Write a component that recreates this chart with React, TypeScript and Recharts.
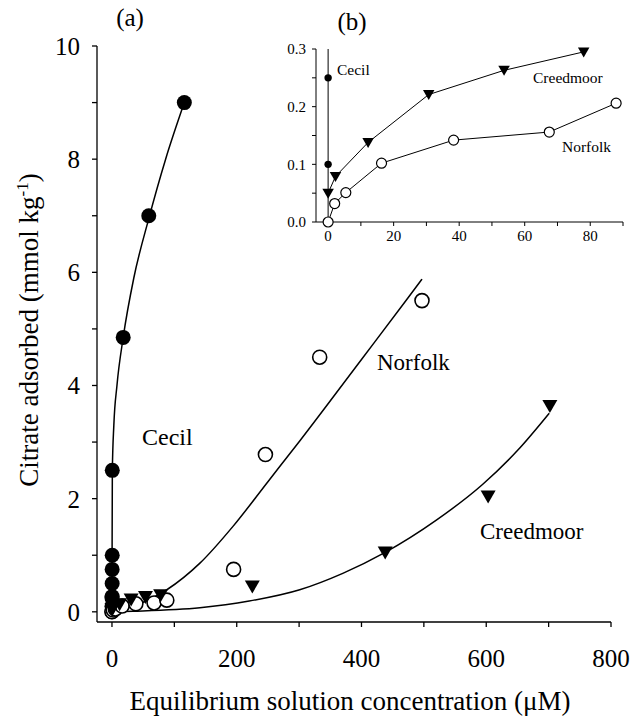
import { ComposedChart, Line, Scatter, XAxis, YAxis } from "recharts";

const SERIF = "'Liberation Serif', 'Times New Roman', serif";

// measured points (µM, mmol/kg)
const cecilX = [0, 0, 0, 0.3, 0.3, 0.3, 0.4, 0.5, 18, 59, 116];
const cecilY = [0, 0.1, 0.25, 0.27, 0.5, 0.75, 1.0, 2.5, 4.85, 7.0, 9.0];
const norfolkX = [0, 2, 5.4, 16.3, 38.3, 67.5, 87.9, 195, 246, 333, 497];
const norfolkY = [0, 0.032, 0.051, 0.102, 0.142, 0.156, 0.206, 0.75, 2.78, 4.5, 5.5];
const creedX = [0, 2.25, 12.2, 30.7, 53.7, 78, 225, 438, 603, 702];
const creedY = [0.05, 0.079, 0.138, 0.221, 0.263, 0.295, 0.45, 1.05, 2.04, 3.64];

// fitted curves
const cecilFitX = [0, 0.2, 0.6, 3, 8, 18, 35, 59, 86, 116];
const cecilFitY = [0, 1.0, 2.5, 3.3, 4.0, 4.85, 5.9, 6.95, 8.0, 9.0];
const norfolkFitX = [0, 34, 88, 141, 194, 250, 301, 400, 472, 497];
const norfolkFitY = [0, 0.1, 0.39, 0.86, 1.51, 2.3, 3.02, 4.46, 5.51, 5.88];
const creedFitX = [0, 34, 141, 220, 301, 370, 438, 520, 594, 650, 701];
const creedFitY = [0, 0.01, 0.07, 0.19, 0.39, 0.68, 1.05, 1.62, 2.25, 2.85, 3.51];

// inset: Cecil rises vertically at ~0 µM
const cecilInsetX = [0, 0];
const cecilInsetY = [0, 0.3];

const mainXTicks = [0, 100, 200, 300, 400, 500, 600, 700, 800];
const mainYTicks = [0, 1, 2, 3, 4, 5, 6, 7, 8, 9, 10];
const insetXTicks = [0, 10, 20, 30, 40, 50, 60, 70, 80, 90];
const insetYTicks = [0, 0.05, 0.1, 0.15, 0.2, 0.25, 0.3];

const zip = (xs: number[], ys: number[]) => xs.map((x, i) => ({ x, y: ys[i] }));
const inInset = (p: { x: number; y: number }) => p.x <= 90 && p.y <= 0.3;

const dot = (r: number) => (p: any) => <circle cx={p.cx} cy={p.cy} r={r} fill="#000" />;
const ring = (r: number, sw: number) => (p: any) => (
  <circle cx={p.cx} cy={p.cy} r={r} fill="#fff" stroke="#000" strokeWidth={sw} />
);
const tri = (w: number) => (p: any) => {
  const h = w * 0.87;
  const pts = `${p.cx - w / 2},${p.cy - h * 0.45} ${p.cx + w / 2},${p.cy - h * 0.45} ${p.cx},${p.cy + h * 0.55}`;
  return <polygon points={pts} fill="#000" />;
};

const axisLine = { stroke: "#000", strokeWidth: 1.3 };
const thin = { stroke: "#000", strokeWidth: 1 };

export default function App() {
  const cecil = zip(cecilX, cecilY);
  const norfolk = zip(norfolkX, norfolkY);
  const creed = zip(creedX, creedY);
  const text = { fontFamily: SERIF, fill: "#000" };

  return (
    <div style={{ position: "absolute", left: 0, top: 0, width: 634, height: 724, background: "#fff", fontFamily: SERIF }}>
      <ComposedChart width={634} height={724} margin={{ top: 46, right: 23, bottom: 62, left: 37 }}>
        <XAxis
          dataKey="x"
          type="number"
          domain={[-24, 800]}
          ticks={mainXTicks}
          tickFormatter={(v) => (v % 200 === 0 ? String(v) : "")}
          height={40}
          tickSize={5}
          tickMargin={22}
          axisLine={axisLine}
          tickLine={axisLine}
          tick={{ ...text, fontSize: 25 }}
        />
        <YAxis
          dataKey="y"
          type="number"
          domain={[-0.18, 10]}
          ticks={mainYTicks}
          tickFormatter={(v) => (v % 2 === 0 ? String(v) : "")}
          width={60}
          tickSize={5}
          tickMargin={12}
          axisLine={axisLine}
          tickLine={axisLine}
          tick={{ ...text, fontSize: 25 }}
        />
        <Line data={zip(cecilFitX, cecilFitY)} dataKey="y" type="monotone" stroke="#000" strokeWidth={1.5} dot={false} isAnimationActive={false} />
        <Line data={zip(norfolkFitX, norfolkFitY)} dataKey="y" type="monotone" stroke="#000" strokeWidth={1.5} dot={false} isAnimationActive={false} />
        <Line data={zip(creedFitX, creedFitY)} dataKey="y" type="monotone" stroke="#000" strokeWidth={1.5} dot={false} isAnimationActive={false} />
        <Scatter data={cecil} shape={dot(7.5)} isAnimationActive={false} />
        <Scatter data={norfolk} shape={ring(7, 1.6)} isAnimationActive={false} />
        <Scatter data={creed} shape={tri(15)} isAnimationActive={false} />
      </ComposedChart>

      <div style={{ position: "absolute", left: 0, top: 0 }}>
        <ComposedChart width={634} height={260} margin={{ top: 49, right: 11, bottom: 13, left: 276 }}>
          <XAxis
            dataKey="x"
            type="number"
            domain={[-3.7, 90]}
            ticks={insetXTicks}
            tickFormatter={(v) => (v % 20 === 0 ? String(v) : "")}
            height={25}
            tickSize={4}
            tickMargin={4}
            axisLine={thin}
            tickLine={thin}
            tick={{ ...text, fontSize: 15 }}
          />
          <YAxis
            dataKey="y"
            type="number"
            domain={[0, 0.3]}
            ticks={insetYTicks}
            tickFormatter={(v) => (Math.round(v * 100) % 10 === 0 ? v.toFixed(1) : "")}
            width={40}
            tickSize={4}
            tickMargin={6}
            axisLine={thin}
            tickLine={thin}
            tick={{ ...text, fontSize: 15 }}
          />
          <Line data={zip(cecilInsetX, cecilInsetY)} dataKey="y" type="linear" stroke="#000" strokeWidth={1} dot={false} isAnimationActive={false} />
          <Line data={creed.filter(inInset)} dataKey="y" type="linear" stroke="#000" strokeWidth={1} dot={false} isAnimationActive={false} />
          <Line data={norfolk.filter(inInset)} dataKey="y" type="linear" stroke="#000" strokeWidth={1} dot={false} isAnimationActive={false} />
          <Scatter data={cecil.filter((p) => p.x === 0 && p.y > 0)} shape={dot(3.7)} isAnimationActive={false} />
          <Scatter data={creed.filter(inInset)} shape={tri(11.5)} isAnimationActive={false} />
          <Scatter data={norfolk.filter(inInset)} shape={ring(5, 1.2)} isAnimationActive={false} />
        </ComposedChart>
      </div>

      <svg width={634} height={724} style={{ position: "absolute", left: 0, top: 0, pointerEvents: "none" }}>
        <g fontFamily={SERIF} fill="#000">
          <text x={130} y={26} fontSize={25} textAnchor="middle">(a)</text>
          <text x={352} y={30} fontSize={25} textAnchor="middle">(b)</text>
          <text x={142} y={445} fontSize={24}>Cecil</text>
          <text x={377} y={370} fontSize={23}>Norfolk</text>
          <text x={480} y={539} fontSize={23}>Creedmoor</text>
          <text x={337} y={75} fontSize={15.5}>Cecil</text>
          <text x={533} y={83} fontSize={15.5}>Creedmoor</text>
          <text x={562} y={152} fontSize={15.5}>Norfolk</text>
          <text x={350} y={710} fontSize={27} textAnchor="middle">Equilibrium solution concentration (μM)</text>
          <text transform="rotate(-90)" x={-330} y={38} fontSize={27} textAnchor="middle">
            Citrate adsorbed (mmol kg<tspan dy={-10} fontSize={17}>-1</tspan><tspan dy={10}>)</tspan>
          </text>
        </g>
      </svg>
    </div>
  );
}
